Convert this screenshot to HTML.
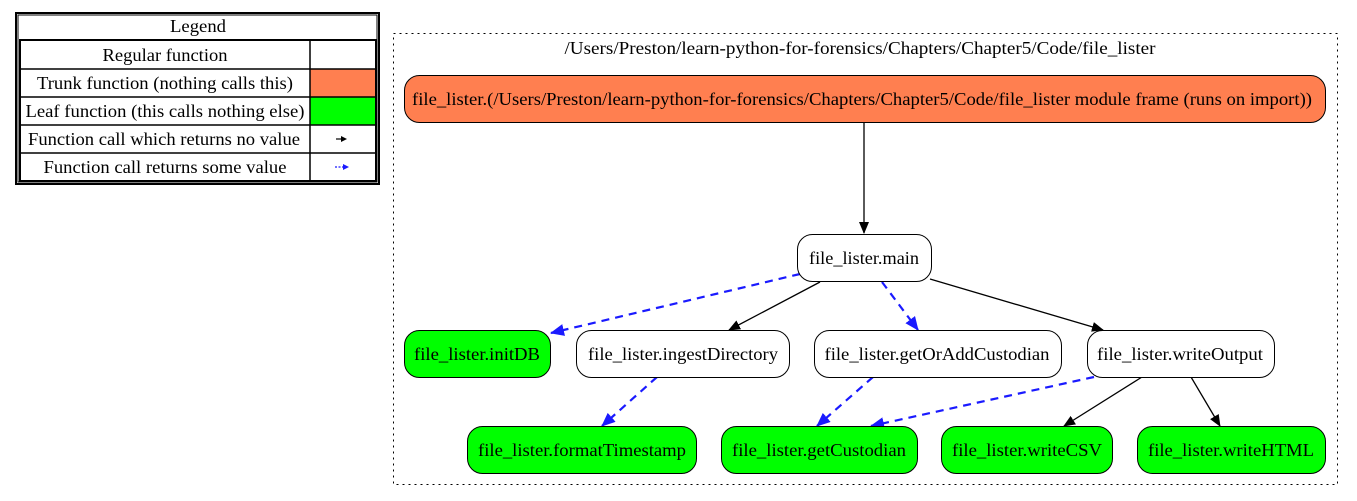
<!DOCTYPE html>
<html><head><meta charset="utf-8"><style>
html,body{margin:0;padding:0;background:#fff;}
svg{display:block;font-family:"Liberation Serif",serif;}
text{font-size:18px;fill:#000;}
</style></head><body>
<svg width="1357" height="501" viewBox="0 0 1357 501" xmlns="http://www.w3.org/2000/svg">
<defs>
<marker id="ab" markerWidth="12" markerHeight="10" refX="11" refY="5" orient="auto" markerUnits="userSpaceOnUse"><path d="M0,0 L12,5 L0,10 z" fill="#000"/></marker>
<marker id="au" markerWidth="14" markerHeight="12" refX="13" refY="6" orient="auto" markerUnits="userSpaceOnUse"><path d="M0,0 L14,6 L0,12 z" fill="#1a1aff"/></marker>
</defs>
<!-- Legend -->
<rect x="16" y="13" width="363" height="171" fill="#fff" stroke="#000" stroke-width="2"/>
<rect x="18" y="15" width="359" height="167" fill="none" stroke="#000" stroke-width="1"/>
<text x="198" y="32" text-anchor="middle" textLength="56" lengthAdjust="spacingAndGlyphs">Legend</text>
<rect x="20" y="40" width="356" height="141" fill="#fff" stroke="#000" stroke-width="2"/>
<rect x="310" y="69" width="65" height="28" fill="#ff7f50"/>
<rect x="310" y="97" width="65" height="28" fill="#00ff00"/>
<g stroke="#000" stroke-width="1.5">
<line x1="20" y1="69" x2="376" y2="69"/><line x1="20" y1="97" x2="376" y2="97"/>
<line x1="20" y1="125" x2="376" y2="125"/><line x1="20" y1="153" x2="376" y2="153"/>
<line x1="310" y1="40" x2="310" y2="181"/>
</g>
<g text-anchor="middle" lengthAdjust="spacingAndGlyphs">
<text x="165" y="61" textLength="125" lengthAdjust="spacingAndGlyphs">Regular function</text>
<text x="165" y="89" textLength="256" lengthAdjust="spacingAndGlyphs">Trunk function (nothing calls this)</text>
<text x="165" y="117" textLength="279" lengthAdjust="spacingAndGlyphs">Leaf function (this calls nothing else)</text>
<text x="164" y="145" textLength="272" lengthAdjust="spacingAndGlyphs">Function call which returns no value</text>
<text x="165" y="173" textLength="243" lengthAdjust="spacingAndGlyphs">Function call returns some value</text>
</g>
<line x1="336" y1="139" x2="342" y2="139" stroke="#000" stroke-width="1.2"/>
<path d="M341,136 L347,139 L341,142 z" fill="#000"/>
<line x1="335" y1="167" x2="343" y2="167" stroke="#1a1aff" stroke-width="1.2" stroke-dasharray="2,1.5"/>
<path d="M343,164 L349,167 L343,170 z" fill="#1a1aff"/>
<!-- Cluster -->
<rect x="393.5" y="33.5" width="944" height="451" fill="none" stroke="#000" stroke-dasharray="2,4"/>
<text x="860" y="54" text-anchor="middle" textLength="591" lengthAdjust="spacingAndGlyphs">/Users/Preston/learn-python-for-forensics/Chapters/Chapter5/Code/file_lister</text>
<!-- Edges -->
<g fill="none" stroke-width="1.3">
<line x1="864" y1="122" x2="864" y2="233" stroke="#000" marker-end="url(#ab)"/>
<line x1="820" y1="282" x2="729" y2="330" stroke="#000" marker-end="url(#ab)"/>
<line x1="930" y1="279" x2="1103" y2="330" stroke="#000" marker-end="url(#ab)"/>
<line x1="1142" y1="377" x2="1064" y2="426" stroke="#000" marker-end="url(#ab)"/>
<line x1="1191" y1="377" x2="1220" y2="426" stroke="#000" marker-end="url(#ab)"/>
</g>
<g fill="none" stroke="#1a1aff" stroke-width="2.2" stroke-dasharray="8,6">
<line x1="800" y1="274" x2="551" y2="333" marker-end="url(#au)"/>
<line x1="882" y1="282" x2="918" y2="330" marker-end="url(#au)"/>
<line x1="657" y1="377" x2="602" y2="426" marker-end="url(#au)"/>
<line x1="873" y1="377" x2="817" y2="426" marker-end="url(#au)"/>
<line x1="1094" y1="377" x2="871" y2="426" marker-end="url(#au)"/>
</g>
<!-- Nodes -->
<g stroke="#000" stroke-width="1">
<rect x="404.5" y="75.5" width="921" height="47" rx="15" fill="#ff7f50"/>
<rect x="797.5" y="234.5" width="134" height="47" rx="15" fill="#fff"/>
<rect x="404.5" y="330.5" width="146" height="47" rx="15" fill="#00ff00"/>
<rect x="576.5" y="330.5" width="213" height="47" rx="15" fill="#fff"/>
<rect x="814.5" y="330.5" width="247" height="47" rx="15" fill="#fff"/>
<rect x="1087.5" y="330.5" width="187" height="47" rx="15" fill="#fff"/>
<rect x="467.5" y="426.5" width="229" height="47" rx="15" fill="#00ff00"/>
<rect x="721.5" y="426.5" width="196" height="47" rx="15" fill="#00ff00"/>
<rect x="941.5" y="426.5" width="171" height="47" rx="15" fill="#00ff00"/>
<rect x="1137.5" y="426.5" width="188" height="47" rx="15" fill="#00ff00"/>
</g>
<g text-anchor="middle">
<text x="862" y="105" textLength="900" lengthAdjust="spacingAndGlyphs">file_lister.(/Users/Preston/learn-python-for-forensics/Chapters/Chapter5/Code/file_lister module frame (runs on import))</text>
<text x="864" y="264" textLength="110" lengthAdjust="spacingAndGlyphs">file_lister.main</text>
<text x="477" y="360" textLength="126" lengthAdjust="spacingAndGlyphs">file_lister.initDB</text>
<text x="683" y="360" textLength="190" lengthAdjust="spacingAndGlyphs">file_lister.ingestDirectory</text>
<text x="937" y="360" textLength="225" lengthAdjust="spacingAndGlyphs">file_lister.getOrAddCustodian</text>
<text x="1180" y="360" textLength="166" lengthAdjust="spacingAndGlyphs">file_lister.writeOutput</text>
<text x="582" y="456" textLength="208" lengthAdjust="spacingAndGlyphs">file_lister.formatTimestamp</text>
<text x="819" y="456" textLength="174" lengthAdjust="spacingAndGlyphs">file_lister.getCustodian</text>
<text x="1027" y="456" textLength="150" lengthAdjust="spacingAndGlyphs">file_lister.writeCSV</text>
<text x="1231" y="456" textLength="166" lengthAdjust="spacingAndGlyphs">file_lister.writeHTML</text>
</g>
</svg>
</body></html>
